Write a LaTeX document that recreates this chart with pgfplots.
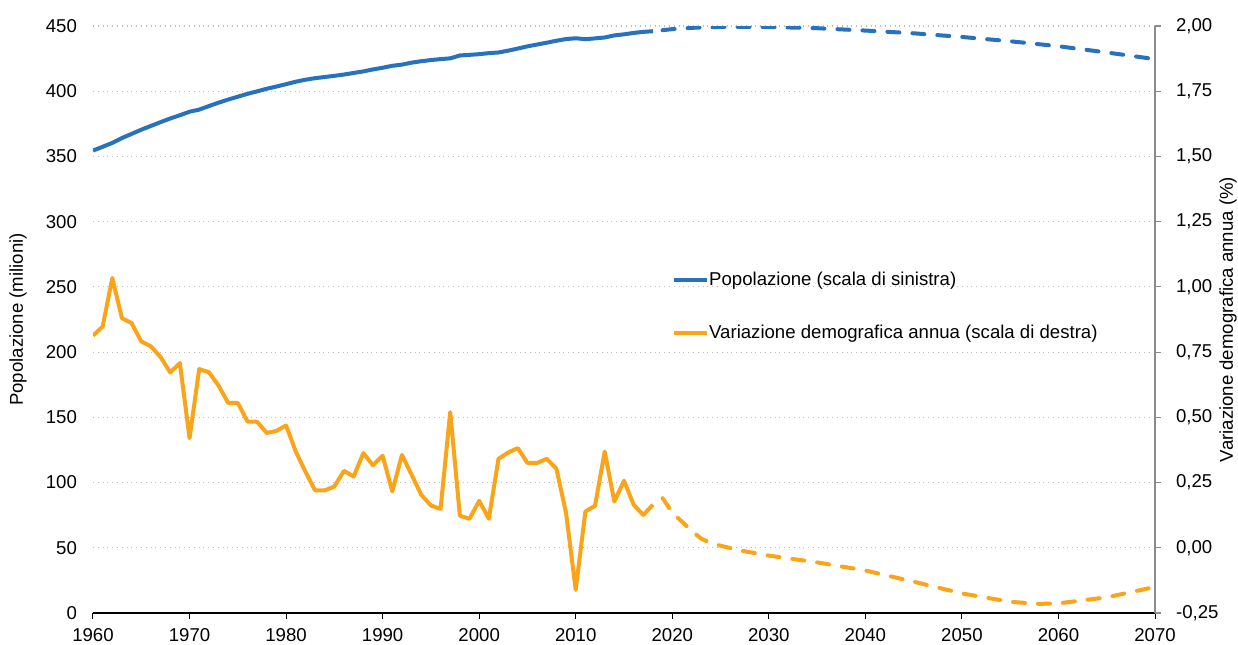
\documentclass[border=0pt]{standalone}
\usepackage{pgfplots}
\pgfplotsset{compat=1.18}
\usepackage{fontspec}
\setmainfont{Liberation Sans}
\definecolor{popblue}{RGB}{39,113,189}
\definecolor{varorange}{RGB}{250,164,26}
\definecolor{gridgray}{RGB}{190,190,190}
\definecolor{axgray}{RGB}{140,140,140}
\newcommand{\chartfont}{\fontsize{9.3}{11}\selectfont}
\begin{document}
\begin{tikzpicture}
\useasboundingbox (-46.5pt,-15.5pt) rectangle (572.5pt,306.5pt);
\pgfplotsset{
  base/.style={
    scale only axis, width=531pt, height=293.5pt,
    xmin=1960, xmax=2070,
    font=\chartfont,
    ticklabel style={font=\chartfont},
    /pgf/number format/assume math mode=true,
    tick align=outside,
    major tick length=3pt,
  },
  popstyle/.style={color=popblue, line width=2pt, line join=round},
  varstyle/.style={color=varorange, line width=2pt, line join=round},
}
% ---------- left axis: population ----------
\begin{axis}[base,
  ymin=0, ymax=450, ytick={0,50,...,450},
  axis y line*=left, axis x line*=bottom,
  y axis line style={draw=none},
  ytick style={draw=none},
  xtick={1960,1970,...,2070},
  xticklabel style={/pgf/number format/1000 sep={}, yshift=-1pt},
  x axis line style={black, line width=0.6pt},
  xtick style={black, line width=0.5pt},
  ymajorgrids, major grid style={gridgray, dotted, line width=0.6pt},
  ylabel={Popolazione (milioni)},
  every axis y label/.style={at={(axis description cs:-0.0706,0.5)}, rotate=90, anchor=center},
  yticklabel style={xshift=-1.5pt},
]
\addplot[popstyle] coordinates {
(1960,354.5)(1961,357.4)(1962,360.4)(1963,364.1)(1964,367.3)(1965,370.5)
(1966,373.4)(1967,376.3)(1968,379.1)(1969,381.6)(1970,384.3)(1971,385.9)
(1972,388.6)(1973,391.2)(1974,393.6)(1975,395.8)(1976,398.0)(1977,399.9)
(1978,401.9)(1979,403.6)(1980,405.4)(1981,407.3)(1982,408.8)(1983,410.0)
(1984,410.9)(1985,411.8)(1986,412.8)(1987,414.0)(1988,415.2)(1989,416.7)
(1990,418.0)(1991,419.5)(1992,420.4)(1993,421.9)(1994,423.0)(1995,423.9)
(1996,424.6)(1997,425.2)(1998,427.4)(1999,427.9)(2000,428.4)(2001,429.2)
(2002,429.7)(2003,431.1)(2004,432.7)(2005,434.4)(2006,435.8)(2007,437.2)
(2008,438.7)(2009,440.0)(2010,440.6)(2011,439.9)(2012,440.5)(2013,441.2)
(2014,442.8)(2015,443.6)(2016,444.7)(2017,445.5)(2018,446.0)
};
\addplot[popstyle, line cap=round, dash pattern=on 6pt off 6.5pt] coordinates {
(2019,446.8)(2020,447.6)(2022,448.6)(2025,449.3)(2030,449.3)(2035,448.3)
(2040,446.5)(2045,444.4)(2050,441.6)(2055,438.3)(2060,434.5)(2065,429.7)(2070,424.6)
};
\end{axis}
% ---------- right axis: annual change ----------
\begin{axis}[base,
  ymin=-0.25, ymax=2, ytick={-0.25,0,...,2.01},
  axis y line*=right, axis x line=none,
  y axis line style={axgray, line width=0.6pt},
  ytick style={axgray, line width=0.6pt},
  yticklabel style={/pgf/number format/.cd, fixed, fixed zerofill, precision=2, use comma, /tikz/.cd, xshift=4pt},
  ylabel={Variazione demografica annua (\%)},
  every axis y label/.style={at={(axis description cs:1.0687,0.5)}, rotate=90, anchor=center},
  legend image code/.code={\draw[#1, line cap=butt] (0pt,0pt) -- (16.5pt,0pt);},
  legend style={at={(axis description cs:0.545,0.5213)}, anchor=west, draw=none, fill=none,
    font=\chartfont, inner sep=0pt, row sep=17.5pt,
    nodes={inner sep=0pt, text height=7pt, text depth=2pt}},
  legend cell align=left,
]
\addlegendimage{popstyle}
\addlegendentry{Popolazione (scala di sinistra)}
\addplot[varstyle] coordinates {
(1960,0.813)(1961,0.848)(1962,1.034)(1963,0.880)(1964,0.861)(1965,0.791)
(1966,0.772)(1967,0.731)(1968,0.672)(1969,0.708)(1970,0.420)(1971,0.685)
(1972,0.673)(1973,0.622)(1974,0.555)(1975,0.555)(1976,0.484)(1977,0.483)
(1978,0.440)(1979,0.448)(1980,0.469)(1981,0.369)(1982,0.292)(1983,0.220)
(1984,0.220)(1985,0.235)(1986,0.295)(1987,0.273)(1988,0.363)(1989,0.316)
(1990,0.353)(1991,0.216)(1992,0.356)(1993,0.280)(1994,0.203)(1995,0.162)
(1996,0.149)(1997,0.520)(1998,0.123)(1999,0.111)(2000,0.180)(2001,0.111)
(2002,0.341)(2003,0.365)(2004,0.382)(2005,0.325)(2006,0.325)(2007,0.341)
(2008,0.303)(2009,0.133)(2010,-0.161)(2011,0.139)(2012,0.161)(2013,0.369)
(2014,0.177)(2015,0.257)(2016,0.165)(2017,0.126)(2018,0.165)
};
\addlegendentry{Variazione demografica annua (scala di destra)}
\addplot[varstyle, line cap=round, dash pattern=on 6pt off 6.5pt, forget plot] coordinates {
(2019,0.190)(2020,0.135)(2021,0.100)(2022,0.065)(2023,0.035)(2024,0.018)
(2025,0.008)(2027,-0.010)(2030,-0.030)(2035,-0.056)(2040,-0.087)(2045,-0.130)
(2050,-0.175)(2055,-0.207)(2058,-0.215)(2060,-0.213)(2065,-0.190)(2070,-0.150)
};
\end{axis}
\end{tikzpicture}
\end{document}
